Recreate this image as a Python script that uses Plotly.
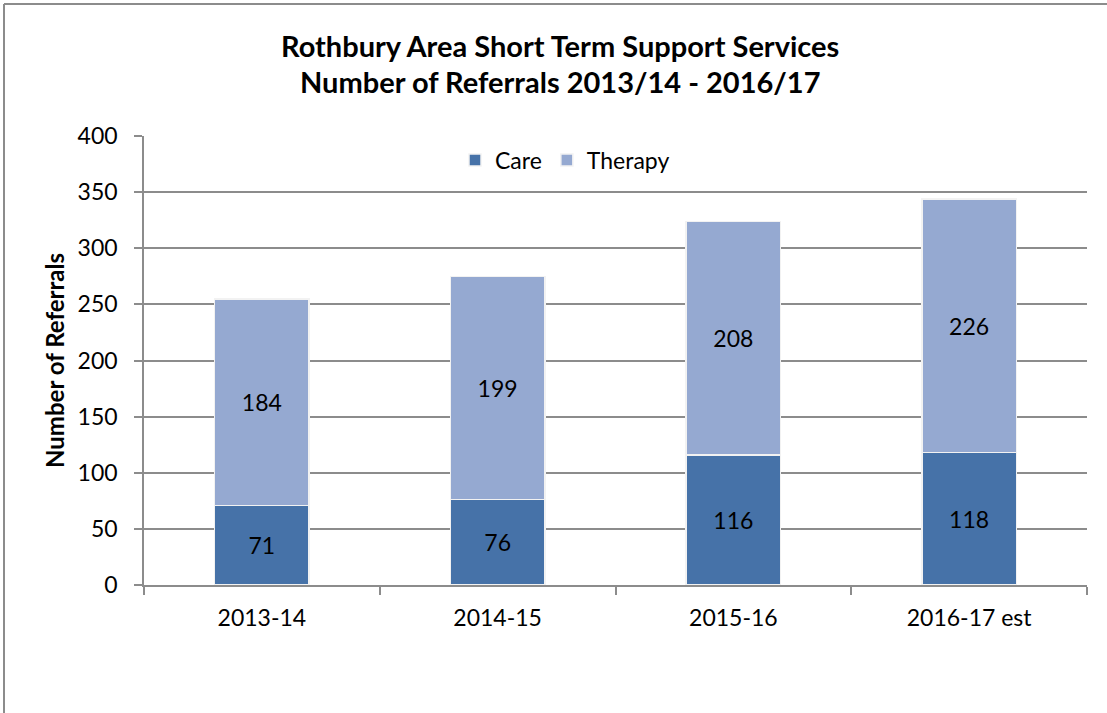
import plotly.graph_objects as go

# Referral counts per financial year
years = ["2013-14", "2014-15", "2015-16", "2016-17 est"]
care = [71, 76, 116, 118]
therapy = [184, 199, 208, 226]

y_ticks = [0, 50, 100, 150, 200, 250, 300, 350, 400]

FONT = "Lato"
CARE_COLOR = "#4672A8"
THERAPY_COLOR = "#95A9D1"
GRID = "#8C8C8C"

fig = go.Figure()
fig.add_trace(go.Bar(
    x=years, y=care, name="Care",
    marker=dict(color=CARE_COLOR, line=dict(color="#F2F2F2", width=1.5)),
    text=care, textposition="inside", insidetextanchor="middle",
    textfont=dict(color="black", size=23, family=FONT),
))
fig.add_trace(go.Bar(
    x=years, y=therapy, name="Therapy",
    marker=dict(color=THERAPY_COLOR, line=dict(color="#F2F2F2", width=1.5)),
    text=therapy, textposition="inside", insidetextanchor="middle",
    textfont=dict(color="black", size=23, family=FONT),
))

L, R, T, B = 144, 20, 136, 128
W, H = 1107, 713
pw, ph = W - L - R, H - T - B

def px_x(px):
    return (px - L) / pw

def px_y(py):
    return (H - B - py) / ph

fig.update_layout(
    width=W, height=H,
    margin=dict(l=L, r=R, t=T, b=B),
    barmode="stack",
    bargap=0.6,
    plot_bgcolor="white",
    paper_bgcolor="white",
    font=dict(family=FONT, size=22, color="black"),
    showlegend=True,
    legend=dict(
        orientation="h", x=px_x(565), y=px_y(160), xanchor="center", yanchor="middle",
        font=dict(size=23, family=FONT), bgcolor="rgba(0,0,0,0)",
        itemwidth=30, traceorder="normal", itemclick=False,
    ),
    uniformtext=dict(mode="show", minsize=10),
    xaxis=dict(
        type="category", showgrid=False, showline=True, linecolor=GRID, linewidth=1.5,
        ticks="outside", tickson="boundaries", ticklen=8, tickcolor=GRID, tickwidth=1.5,
        tickfont=dict(size=23, family=FONT), ticklabelstandoff=12,
    ),
    yaxis=dict(
        range=[0, 400], tickvals=y_ticks, showgrid=True, gridcolor=GRID, gridwidth=1.5,
        showline=True, linecolor=GRID, linewidth=1.5, ticks="outside", ticklen=8,
        tickcolor=GRID, tickwidth=1.5, tickfont=dict(size=23, family=FONT),
        ticklabelstandoff=12, zeroline=False,
        title=dict(text="<b>Number of Referrals</b>", font=dict(size=24, family=FONT), standoff=6),
    ),
    annotations=[
        dict(text="<b>Rothbury Area Short Term Support Services</b>", xref="paper", yref="paper",
             x=px_x(560), y=px_y(45), xanchor="center", yanchor="middle", showarrow=False,
             font=dict(size=29, family=FONT)),
        dict(text="<b>Number of Referrals 2013/14 - 2016/17</b>", xref="paper", yref="paper",
             x=px_x(560), y=px_y(82), xanchor="center", yanchor="middle", showarrow=False,
             font=dict(size=29, family=FONT)),
    ],
    shapes=[
        dict(type="line", xref="paper", yref="paper", x0=px_x(4), x1=px_x(W + 5),
             y0=px_y(4), y1=px_y(4), line=dict(color="#8C8C8C", width=2)),
        dict(type="line", xref="paper", yref="paper", x0=px_x(4), x1=px_x(4),
             y0=px_y(4), y1=px_y(H + 5), line=dict(color="#8C8C8C", width=2)),
    ],
)

fig.write_html("out.html")
